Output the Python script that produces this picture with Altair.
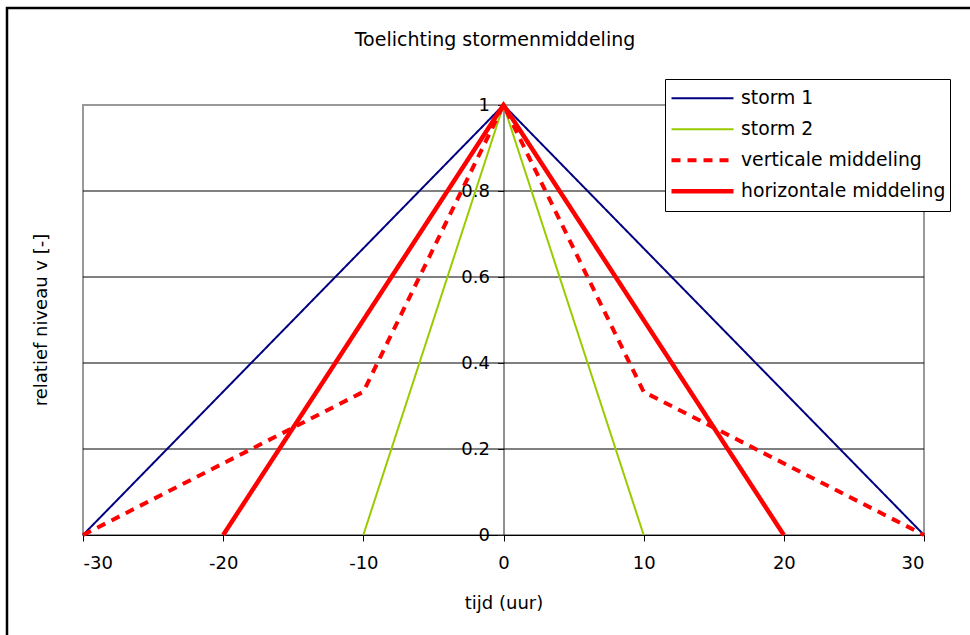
import altair as alt
import pandas as pd

series_names = ["storm 1", "storm 2", "verticale middeling", "horizontale middeling"]
series_colors = ["#000080", "#99CC00", "#FF0000", "#FF0000"]

storm1_t = [-30, 0, 30]
storm1_v = [0, 1, 0]
storm2_t = [-10, 0, 10]
storm2_v = [0, 1, 0]
vert_t = [-30, -10, 0, 10, 30]
vert_v = [0, 0.333, 1, 0.333, 0]
hor_t = [-20, 0, 20]
hor_v = [0, 1, 0]

x_ticks = [-30, -20, -10, 0, 10, 20, 30]
y_ticks = [0, 0.2, 0.4, 0.6, 0.8, 1]
grid_y = [0.2, 0.4, 0.6, 0.8]

FONT = "DejaVu Sans"
FS = 18

rows = []
for name, ts, vs in zip(series_names, [storm1_t, storm2_t, vert_t, hor_t],
                        [storm1_v, storm2_v, vert_v, hor_v]):
    for i, (t, v) in enumerate(zip(ts, vs)):
        rows.append({"serie": name, "t": t, "v": v, "i": i})
df = pd.DataFrame(rows)
grid_df = pd.DataFrame({"g": grid_y})

W, H = 841, 430
PL, PT = 83, 105

xscale = alt.Scale(domain=[-30, 30], nice=False, zero=False)
yscale = alt.Scale(domain=[0, 1], nice=False)

y_axis = alt.Axis(values=y_ticks, title=None, grid=False, offset=-420.5,
                  labelExpr="'' + datum.value", domainColor="#222222",
                  tickColor="#222222", tickSize=6, labelFont=FONT, labelFontSize=FS,
                  labelColor="black", labelPadding=8)
x_axis = alt.Axis(values=x_ticks, title="tijd (uur)", grid=False,
                  labelExpr="'' + datum.value",
                  domainColor="black", tickColor="black", tickSize=6,
                  labelFont=FONT, labelFontSize=FS, labelColor="black",
                  labelPadding=13, titleFont=FONT, titleFontSize=FS,
                  titleFontWeight="normal", titleColor="black",
                  titlePadding=22)

leg = alt.Legend(
    title=None, orient="none", legendX=582, legendY=-26,
    fillColor="white", strokeColor="#000000", padding=4,
    labelFont=FONT, labelFontSize=18.8, labelColor="black", labelOffset=5,
    symbolType="stroke", symbolSize=3844, clipHeight=30.5, rowPadding=0,
    labelLimit=400,
)

grid = alt.Chart(grid_df).mark_rule(color="#000000", strokeWidth=1).encode(
    y=alt.Y("g:Q", scale=yscale, axis=y_axis)
)

lines = alt.Chart(df).mark_line(clip=False, strokeCap="butt").encode(
    x=alt.X("t:Q", scale=xscale, axis=x_axis),
    y=alt.Y("v:Q", scale=yscale, axis=y_axis),
    color=alt.Color("serie:N",
                    scale=alt.Scale(type="ordinal", domain=series_names, range=series_colors),
                    sort=series_names, legend=leg),
    strokeDash=alt.StrokeDash("serie:N",
                              scale=alt.Scale(type="ordinal", domain=series_names,
                                              range=[[1, 0], [1, 0], [9, 7], [1, 0]]),
                              sort=series_names, legend=leg),
    strokeWidth=alt.StrokeWidth("serie:N",
                                scale=alt.Scale(type="ordinal", domain=series_names,
                                                range=[2, 2, 4, 4.5]),
                                sort=series_names, legend=leg),
    order="i:Q",
)

title_txt = alt.Chart(pd.DataFrame({"s": ["Toelichting stormenmiddeling"]})).mark_text(
    font=FONT, fontSize=19, color="black", baseline="middle", align="center"
).encode(text="s:N", x=alt.value(495 - PL), y=alt.value(40 - PT))

ytitle_txt = alt.Chart(pd.DataFrame({"s": ["relatief niveau v [-]"]})).mark_text(
    font=FONT, fontSize=FS, color="black", baseline="middle", align="center", angle=270
).encode(text="s:N", x=alt.value(42 - PL), y=alt.value(H / 2))

frame = alt.Chart(pd.DataFrame({"a": [0]})).mark_rect(
    fill=None, stroke="black", strokeWidth=2.5, clip=False
).encode(x=alt.value(7 - PL), y=alt.value(8 - PT), x2=alt.value(1100), y2=alt.value(700))

chart = alt.layer(frame, grid, lines, title_txt, ytitle_txt).properties(
    width=W, height=H,
    autosize=alt.AutoSizeParams(type="none"),
    padding={"left": PL, "top": PT, "right": 970 - PL - W, "bottom": 635 - PT - H},
    background="white",
).configure_view(stroke="#999999", strokeWidth=2)

chart.save("out.html", embed_options={"renderer": "svg", "actions": False})
